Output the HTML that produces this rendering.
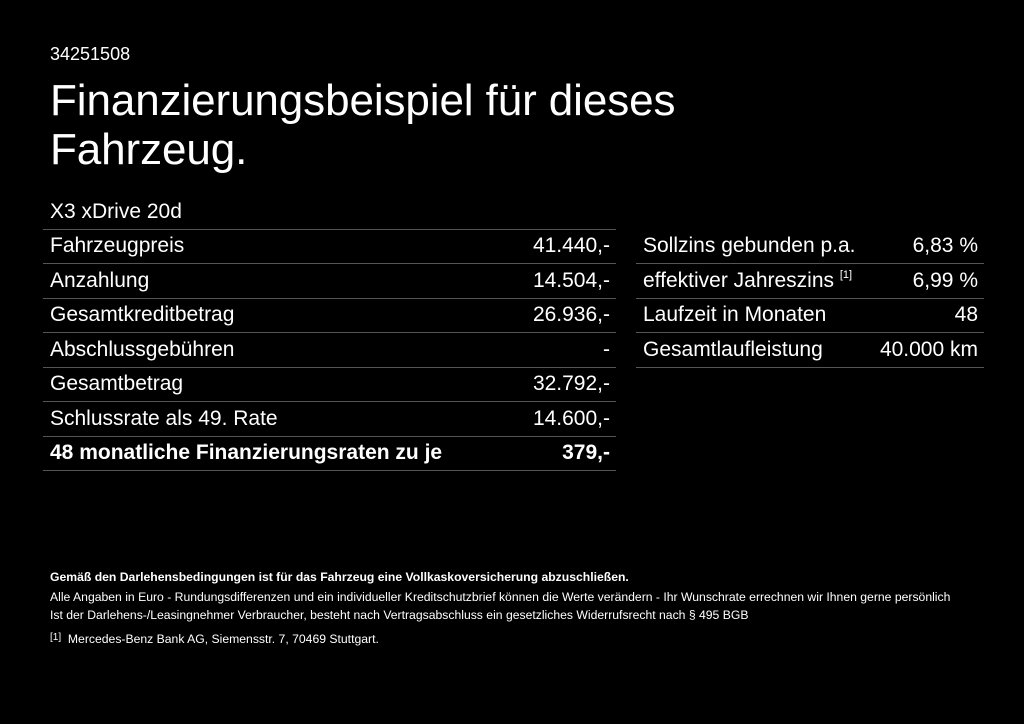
<!DOCTYPE html>
<html><head><meta charset="utf-8"><style>
body{margin:0;width:1024px;height:724px;background:#000;color:#fff;font-family:"Liberation Sans",sans-serif;overflow:hidden;position:relative}
.a{position:absolute}
.num{left:50px;top:44px;font-size:18px}
.title{left:50px;top:76px;font-size:44px;line-height:49px;letter-spacing:-0.1px}
.tbl{position:absolute}
.row{height:33.5px;border-bottom:1px solid #555;display:flex;justify-content:space-between;align-items:center;font-size:21px;padding:0 6px 0 7px;box-sizing:content-box}
.b{font-weight:bold}
sup{font-size:11px;vertical-align:9px}
.f{left:50px;font-size:12.2px}
</style></head><body>
<div class="a num">34251508</div>
<div class="a title">Finanzierungsbeispiel für dieses<br>Fahrzeug.</div>
<div class="tbl" style="left:43px;top:195px;width:573px">
<div class="row"><span>X3 xDrive 20d</span><span></span></div>
<div class="row"><span>Fahrzeugpreis</span><span>41.440,-</span></div>
<div class="row"><span>Anzahlung</span><span>14.504,-</span></div>
<div class="row"><span>Gesamtkreditbetrag</span><span>26.936,-</span></div>
<div class="row"><span>Abschlussgebühren</span><span>-</span></div>
<div class="row"><span>Gesamtbetrag</span><span>32.792,-</span></div>
<div class="row"><span>Schlussrate als 49. Rate</span><span>14.600,-</span></div>
<div class="row b"><span>48 monatliche Finanzierungsraten zu je</span><span>379,-</span></div>
</div>
<div class="tbl" style="left:636px;top:229.5px;width:348px">
<div class="row"><span>Sollzins gebunden p.a.</span><span>6,83 %</span></div>
<div class="row"><span>effektiver Jahreszins <sup>[1]</sup></span><span>6,99 %</span></div>
<div class="row"><span>Laufzeit in Monaten</span><span>48</span></div>
<div class="row"><span>Gesamtlaufleistung</span><span>40.000 km</span></div>
</div>
<div class="a f b" style="top:570px">Gemäß den Darlehensbedingungen ist für das Fahrzeug eine Vollkaskoversicherung abzuschließen.</div>
<div class="a f" style="top:590px">Alle Angaben in Euro - Rundungsdifferenzen und ein individueller Kreditschutzbrief können die Werte verändern - Ihr Wunschrate errechnen wir Ihnen gerne persönlich</div>
<div class="a f" style="top:608px">Ist der Darlehens-/Leasingnehmer Verbraucher, besteht nach Vertragsabschluss ein gesetzliches Widerrufsrecht nach § 495 BGB</div>
<div class="a f" style="top:632px"><span style="font-size:10px;vertical-align:3px">[1]</span>&nbsp; Mercedes-Benz Bank AG, Siemensstr. 7, 70469 Stuttgart.</div>
</body></html>
